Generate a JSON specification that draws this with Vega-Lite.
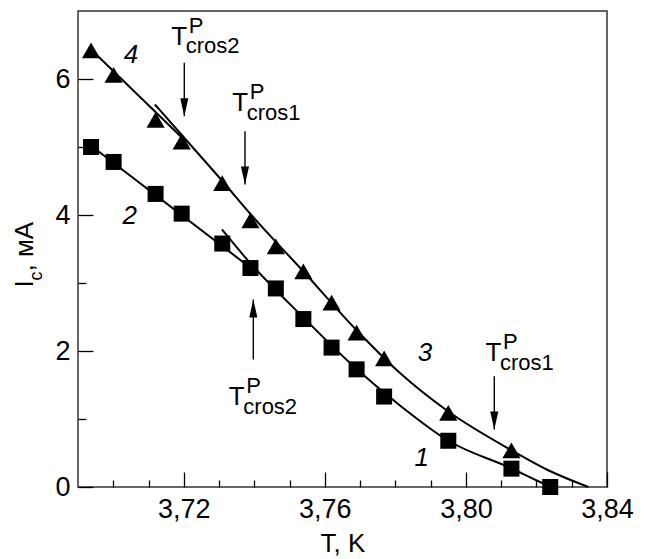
{
  "$schema": "https://vega.github.io/schema/vega-lite/v6.json",
  "width": 529,
  "height": 476,
  "autosize": {"type": "none"},
  "padding": {"left": 78, "top": 11, "right": 44, "bottom": 72},
  "config": {
    "font": "Liberation Sans",
    "view": {"stroke": "#333", "strokeWidth": 1.5},
    "axis": {"grid": false, "domain": false, "tickColor": "black", "tickWidth": 1.3, "labelColor": "black", "titleColor": "black", "labelFont": "Liberation Sans", "titleFont": "Liberation Sans", "labelFlush": false, "labelOverlap": false}
  },
  "datasets": {
    "points": [
      {"T": 3.6937, "I": 6.42, "set": "upper"},
      {"T": 3.7001, "I": 6.06, "set": "upper"},
      {"T": 3.7120, "I": 5.40, "set": "upper"},
      {"T": 3.7194, "I": 5.08, "set": "upper"},
      {"T": 3.7309, "I": 4.47, "set": "upper"},
      {"T": 3.7389, "I": 3.92, "set": "upper"},
      {"T": 3.7461, "I": 3.54, "set": "upper"},
      {"T": 3.7539, "I": 3.17, "set": "upper"},
      {"T": 3.7619, "I": 2.71, "set": "upper"},
      {"T": 3.7690, "I": 2.27, "set": "upper"},
      {"T": 3.7768, "I": 1.89, "set": "upper"},
      {"T": 3.7950, "I": 1.09, "set": "upper"},
      {"T": 3.8129, "I": 0.54, "set": "upper"},
      {"T": 3.6937, "I": 5.00, "set": "lower"},
      {"T": 3.7001, "I": 4.78, "set": "lower"},
      {"T": 3.7120, "I": 4.31, "set": "lower"},
      {"T": 3.7194, "I": 4.02, "set": "lower"},
      {"T": 3.7309, "I": 3.58, "set": "lower"},
      {"T": 3.7389, "I": 3.22, "set": "lower"},
      {"T": 3.7461, "I": 2.92, "set": "lower"},
      {"T": 3.7539, "I": 2.47, "set": "lower"},
      {"T": 3.7619, "I": 2.05, "set": "lower"},
      {"T": 3.7690, "I": 1.73, "set": "lower"},
      {"T": 3.7768, "I": 1.33, "set": "lower"},
      {"T": 3.7950, "I": 0.68, "set": "lower"},
      {"T": 3.8129, "I": 0.27, "set": "lower"},
      {"T": 3.8239, "I": 0.00, "set": "lower"}
    ],
    "curves": [
      {"curve": "4", "T": 3.6940, "I": 6.419},
      {"curve": "4", "T": 3.7203, "I": 5.096},
      {"curve": "3", "T": 3.7118, "I": 5.625},
      {"curve": "3", "T": 3.7203, "I": 5.125},
      {"curve": "3", "T": 3.7308, "I": 4.507},
      {"curve": "3", "T": 3.7389, "I": 4.015},
      {"curve": "3", "T": 3.7538, "I": 3.176},
      {"curve": "3", "T": 3.7688, "I": 2.316},
      {"curve": "3", "T": 3.7813, "I": 1.676},
      {"curve": "3", "T": 3.7948, "I": 1.118},
      {"curve": "3", "T": 3.8128, "I": 0.544},
      {"curve": "3", "T": 3.8238, "I": 0.235},
      {"curve": "3", "T": 3.8347, "I": 0.0},
      {"curve": "2", "T": 3.6940, "I": 5.007},
      {"curve": "2", "T": 3.7388, "I": 3.228},
      {"curve": "1", "T": 3.7308, "I": 3.787},
      {"curve": "1", "T": 3.7388, "I": 3.294},
      {"curve": "1", "T": 3.7539, "I": 2.493},
      {"curve": "1", "T": 3.7690, "I": 1.735},
      {"curve": "1", "T": 3.7813, "I": 1.199},
      {"curve": "1", "T": 3.7949, "I": 0.684},
      {"curve": "1", "T": 3.8130, "I": 0.272},
      {"curve": "1", "T": 3.8204, "I": 0.088},
      {"curve": "1", "T": 3.8241, "I": 0.0}
    ],
    "numbers": [
      {"label": "4", "T": 3.7050, "I": 6.35},
      {"label": "2", "T": 3.7047, "I": 3.98},
      {"label": "3", "T": 3.7884, "I": 1.97},
      {"label": "1", "T": 3.7875, "I": 0.42}
    ],
    "annot": [
      {"T": 3.71643, "I": 6.507, "sub": "cros2"},
      {"T": 3.73372, "I": 5.526, "sub": "cros1"},
      {"T": 3.73276, "I": 1.199, "sub": "cros2"},
      {"T": 3.80555, "I": 1.850, "sub": "cros1"}
    ],
    "arrows": [
      {"T": 3.72014, "tail": 6.238, "tip": 5.453, "dir": "down"},
      {"T": 3.73735, "tail": 5.232, "tip": 4.449, "dir": "down"},
      {"T": 3.73971, "tail": 1.875, "tip": 2.757, "dir": "up"},
      {"T": 3.80804, "tail": 1.629, "tip": 0.846, "dir": "down"}
    ],
    "ytitle": [
      {"T": 3.67724, "I": 2.934}
    ]
  },
  "resolve": {"axis": {"x": "independent", "y": "independent"}},
  "layer": [
    {
      "data": {"name": "curves"},
      "mark": {"type": "line", "interpolate": "monotone", "stroke": "black", "strokeWidth": 2},
      "encoding": {
        "x": {"field": "T", "type": "quantitative", "scale": {"domain": [3.69, 3.84], "nice": false, "zero": false},
          "axis": {"orient": "bottom", "values": [3.72, 3.76, 3.80, 3.84], "tickSize": -15, "labelPadding": 24, "labelFontSize": 27,
            "labelExpr": "replace(format(datum.value, '.2f'), '.', ',')", "title": "T, K", "titleFontSize": 26, "titleFontWeight": "normal", "titlePadding": 8}},
        "y": {"field": "I", "type": "quantitative", "scale": {"domain": [0, 7], "nice": false, "zero": false},
          "axis": {"orient": "left", "values": [0, 2, 4, 6], "tickSize": -15, "labelPadding": 23, "labelFontSize": 27, "title": null}},
        "detail": {"field": "curve"}
      }
    },
    {
      "data": {"name": "points"},
      "mark": {"type": "point", "filled": true, "color": "black", "opacity": 1},
      "encoding": {
        "x": {"field": "T", "type": "quantitative", "scale": {"domain": [3.69, 3.84], "nice": false, "zero": false},
          "axis": {"orient": "bottom", "values": [3.70, 3.71, 3.73, 3.74, 3.75, 3.77, 3.78, 3.79, 3.81, 3.82, 3.83], "tickSize": -7, "labels": false, "title": null}},
        "y": {"field": "I", "type": "quantitative", "scale": {"domain": [0, 7], "nice": false, "zero": false},
          "axis": {"orient": "left", "values": [1, 3, 5], "tickSize": -8, "labels": false, "title": null}},
        "shape": {"field": "set", "type": "nominal", "scale": {"domain": ["lower", "upper"], "range": ["square", "triangle-up"]}, "legend": null},
        "size": {"field": "set", "type": "nominal", "scale": {"domain": ["lower", "upper"], "range": [256, 330]}, "legend": null}
      }
    },
    {
      "data": {"name": "numbers"},
      "mark": {"type": "text", "fontSize": 26, "fontStyle": "italic", "color": "black", "align": "center", "baseline": "middle"},
      "encoding": {
        "x": {"field": "T", "type": "quantitative", "axis": null},
        "y": {"field": "I", "type": "quantitative", "axis": null},
        "text": {"field": "label"}
      }
    },
    {
      "data": {"name": "annot"},
      "mark": {"type": "text", "text": "T", "fontSize": 26, "color": "black", "align": "left", "baseline": "alphabetic"},
      "encoding": {
        "x": {"field": "T", "type": "quantitative", "axis": null},
        "y": {"field": "I", "type": "quantitative", "axis": null}
      }
    },
    {
      "data": {"name": "annot"},
      "mark": {"type": "text", "text": "P", "fontSize": 22, "color": "black", "align": "left", "baseline": "alphabetic", "dx": 17.5, "dy": -12},
      "encoding": {
        "x": {"field": "T", "type": "quantitative", "axis": null},
        "y": {"field": "I", "type": "quantitative", "axis": null}
      }
    },
    {
      "data": {"name": "annot"},
      "mark": {"type": "text", "fontSize": 22, "color": "black", "align": "left", "baseline": "alphabetic", "dx": 14.5, "dy": 8.7},
      "encoding": {
        "x": {"field": "T", "type": "quantitative", "axis": null},
        "y": {"field": "I", "type": "quantitative", "axis": null},
        "text": {"field": "sub"}
      }
    },
    {
      "data": {"name": "arrows"},
      "mark": {"type": "rule", "color": "black", "strokeWidth": 1.4},
      "encoding": {
        "x": {"field": "T", "type": "quantitative", "axis": null},
        "y": {"field": "tail", "type": "quantitative", "axis": null},
        "y2": {"field": "tip"}
      }
    },
    {
      "data": {"name": "arrows"},
      "transform": [{"filter": {"field": "dir", "equal": "down"}}],
      "mark": {"type": "point", "filled": true, "color": "black", "opacity": 1, "size": 324, "strokeWidth": 0, "shape": "M0,0L-0.45,-2L0.45,-2Z"},
      "encoding": {
        "x": {"field": "T", "type": "quantitative", "axis": null},
        "y": {"field": "tip", "type": "quantitative", "axis": null}
      }
    },
    {
      "data": {"name": "arrows"},
      "transform": [{"filter": {"field": "dir", "equal": "up"}}],
      "mark": {"type": "point", "filled": true, "color": "black", "opacity": 1, "size": 324, "strokeWidth": 0, "shape": "M0,0L-0.45,2L0.45,2Z"},
      "encoding": {
        "x": {"field": "T", "type": "quantitative", "axis": null},
        "y": {"field": "tip", "type": "quantitative", "axis": null}
      }
    },
    {
      "data": {"name": "ytitle"},
      "mark": {"type": "text", "text": "I", "angle": 270, "fontSize": 26, "color": "black", "align": "left", "baseline": "alphabetic"},
      "encoding": {
        "x": {"field": "T", "type": "quantitative", "axis": null},
        "y": {"field": "I", "type": "quantitative", "axis": null}
      }
    },
    {
      "data": {"name": "ytitle"},
      "mark": {"type": "text", "text": "c", "angle": 270, "fontSize": 18, "color": "black", "align": "left", "baseline": "alphabetic", "dx": 7, "dy": 9},
      "encoding": {
        "x": {"field": "T", "type": "quantitative", "axis": null},
        "y": {"field": "I", "type": "quantitative", "axis": null}
      }
    },
    {
      "data": {"name": "ytitle"},
      "mark": {"type": "text", "text": ", мА", "angle": 270, "fontSize": 26, "color": "black", "align": "left", "baseline": "alphabetic", "dx": 16, "dy": 0},
      "encoding": {
        "x": {"field": "T", "type": "quantitative", "axis": null},
        "y": {"field": "I", "type": "quantitative", "axis": null}
      }
    }
  ]
}
